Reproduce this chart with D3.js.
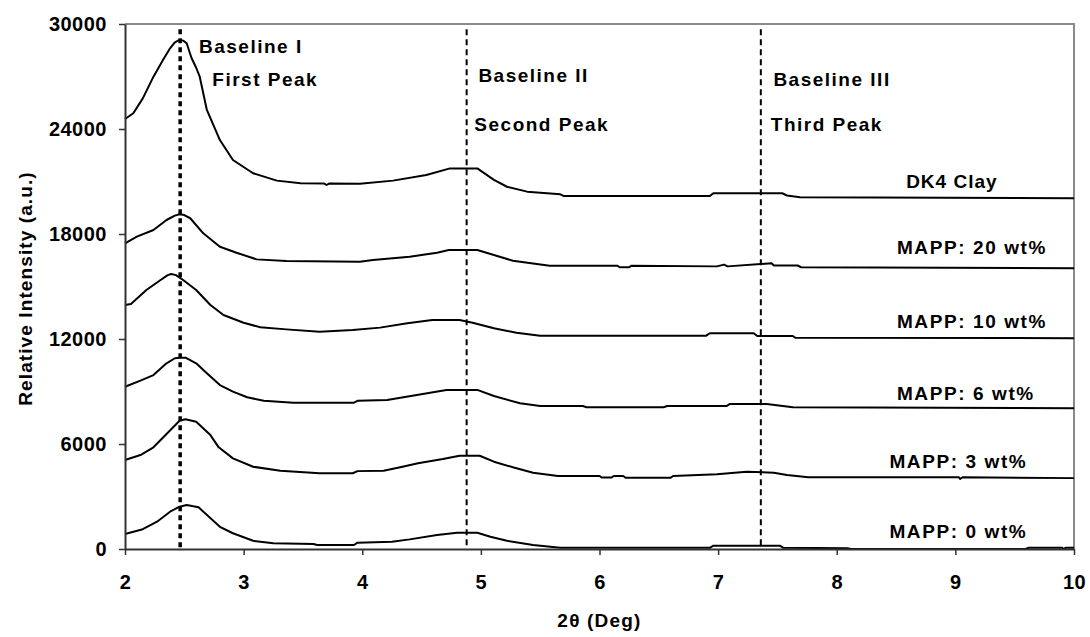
<!DOCTYPE html>
<html><head><meta charset="utf-8">
<script src="https://cdn.jsdelivr.net/npm/d3@7"></script>
<style>
body{margin:0;background:#fff}
text{font-family:"Liberation Sans",Arial,sans-serif;font-weight:bold;fill:#000}
</style>
</head><body><svg id="chart" width="1090" height="637"></svg>
<script>
// ---- data ----
const xTicks = [2, 3, 4, 5, 6, 7, 8, 9, 10];
const yTicks = [0, 6000, 12000, 18000, 24000, 30000];
const seriesLabels = ["DK4 Clay", "MAPP: 20 wt%", "MAPP: 10 wt%", "MAPP: 6 wt%", "MAPP: 3 wt%", "MAPP: 0 wt%"];
const baselineLabels = ["Baseline I", "Baseline II", "Baseline III"];
const peakLabels = ["First Peak", "Second Peak", "Third Peak"];
const baselinePositions = [2.465, 4.88, 7.36];
const xTitle = "2θ (Deg)";
const yTitle = "Relative Intensity (a.u.)";

const dk4Clay = [[2.00,24570],[2.07,24900],[2.15,25750],[2.24,26990],[2.32,27940],[2.38,28610],[2.42,28950],[2.46,29090],[2.49,29050],[2.52,28900],[2.56,28070],[2.60,27500],[2.63,26990],[2.69,25090],[2.80,23370],[2.91,22230],[3.08,21470],[3.28,21050],[3.48,20900],[3.68,20880],[3.70,20800],[3.72,20880],[3.98,20870],[4.26,21050],[4.54,21370],[4.74,21750],[4.97,21750],[5.11,21090],[5.22,20700],[5.39,20420],[5.67,20270],[5.70,20170],[6.93,20170],[6.96,20330],[7.54,20330],[7.58,20200],[7.69,20100],[10.00,20050]];
const mapp20 = [[2.00,17470],[2.10,17850],[2.24,18230],[2.35,18800],[2.42,19050],[2.46,19130],[2.50,19080],[2.55,18900],[2.66,18040],[2.80,17270],[2.94,16930],[3.11,16550],[3.36,16460],[3.98,16420],[4.09,16510],[4.40,16700],[4.63,16930],[4.73,17090],[4.97,17090],[5.11,16800],[5.27,16470],[5.58,16190],[6.15,16190],[6.17,16100],[6.25,16100],[6.27,16190],[6.99,16150],[7.05,16250],[7.08,16150],[7.45,16330],[7.47,16200],[7.67,16200],[7.70,16100],[10.00,16050]];
const mapp10 = [[2.00,13940],[2.05,14000],[2.18,14800],[2.30,15370],[2.36,15650],[2.39,15710],[2.43,15650],[2.49,15370],[2.60,14800],[2.72,13940],[2.83,13370],[3.00,12930],[3.14,12670],[3.36,12550],[3.64,12420],[3.92,12510],[4.15,12650],[4.38,12900],[4.59,13090],[4.82,13090],[4.93,12930],[5.11,12610],[5.30,12360],[5.50,12190],[6.90,12190],[6.93,12330],[7.30,12330],[7.33,12170],[7.63,12170],[7.65,12070],[10.00,12050]];
const mapp6 = [[2.00,9270],[2.13,9620],[2.24,9940],[2.35,10610],[2.42,10900],[2.46,10930],[2.51,10930],[2.60,10610],[2.69,10040],[2.80,9370],[2.91,8990],[3.03,8670],[3.17,8470],[3.42,8360],[3.93,8360],[3.96,8470],[4.21,8510],[4.46,8800],[4.71,9090],[4.97,9090],[5.11,8740],[5.33,8330],[5.50,8170],[5.86,8170],[5.89,8100],[6.54,8100],[6.57,8170],[7.07,8170],[7.10,8290],[7.41,8290],[7.63,8100],[10.00,8050]];
const mapp3 = [[2.00,5090],[2.13,5370],[2.24,5810],[2.35,6570],[2.46,7330],[2.51,7410],[2.60,7270],[2.72,6510],[2.79,5810],[2.91,5180],[3.08,4700],[3.31,4470],[3.64,4330],[3.92,4330],[3.96,4450],[4.18,4470],[4.32,4670],[4.47,4900],[4.68,5140],[4.82,5330],[4.99,5330],[5.11,4990],[5.27,4670],[5.44,4360],[5.65,4170],[6.00,4170],[6.02,4080],[6.10,4080],[6.12,4170],[6.20,4170],[6.22,4070],[6.60,4070],[6.62,4170],[6.99,4270],[7.24,4420],[7.47,4360],[7.58,4230],[7.76,4100],[9.03,4100],[9.04,4000],[9.06,4100],[10.00,4050]];
const mapp0 = [[2.00,860],[2.15,1130],[2.27,1560],[2.38,2130],[2.46,2420],[2.52,2510],[2.62,2380],[2.80,1270],[2.91,900],[3.08,470],[3.25,330],[3.59,290],[3.62,230],[3.93,230],[3.96,360],[4.25,420],[4.40,550],[4.63,800],[4.80,930],[4.97,930],[5.08,700],[5.22,470],[5.44,230],[5.67,70],[6.93,70],[6.96,190],[7.52,190],[7.55,70],[8.09,40],[8.12,0],[9.59,0],[9.62,70],[9.90,70],[9.91,0],[9.93,70],[10.00,70]];
const seriesData = [dk4Clay, mapp20, mapp10, mapp6, mapp3, mapp0];

// ---- layout ----
const W = 1090, H = 637;
const plot = {left: 125, right: 1074, top: 24, bottom: 549};
const svg = d3.select("#chart");
svg.append("rect").attr("width", W).attr("height", H).attr("fill", "#fff");

const x = d3.scaleLinear().domain([2, 10]).range([plot.left, plot.right]);
const y = d3.scaleLinear().domain([0, 30000]).range([plot.bottom, plot.top]);

// plot-area border (top / right)
svg.append("path")
  .attr("d", `M${plot.left},${plot.top}H${plot.right}V${plot.bottom}`)
  .attr("fill", "none").attr("stroke", "#8a8a8a").attr("stroke-width", 2);

// baselines (dashed vertical)
svg.append("g").selectAll("line").data(baselinePositions).join("line")
  .attr("x1", d => x(d)).attr("x2", d => x(d))
  .attr("y1", y(29700)).attr("y2", y(0))
  .attr("stroke", "#000")
  .attr("stroke-width", (d, i) => i === 0 ? 3.5 : 2)
  .attr("stroke-dasharray", (d, i) => i === 0 ? "5 4" : "6 4");

// curves
const line = d3.line().x(d => x(d[0])).y(d => y(d[1]));
svg.append("g").selectAll("path").data(seriesData).join("path")
  .attr("d", line).attr("fill", "none").attr("stroke", "#000")
  .attr("stroke-width", 2).attr("stroke-linejoin", "round");

// axes
const yAxis = d3.axisLeft(y).tickValues(yTicks).tickSize(6).tickSizeOuter(0).tickPadding(12).tickFormat(d3.format("d"));
const xAxis = d3.axisBottom(x).tickValues(xTicks).tickSize(6).tickSizeOuter(0).tickPadding(20).tickFormat(d3.format("d"));
const gy = svg.append("g").attr("transform", `translate(${plot.left},0)`).call(yAxis);
const gx = svg.append("g").attr("transform", `translate(0,${plot.bottom})`).call(xAxis);
[gx, gy].forEach(g => {
  g.select(".domain").attr("stroke", "#333").attr("stroke-width", 2);
  g.selectAll(".tick line").attr("stroke", "#333").attr("stroke-width", 1.5);
  g.selectAll(".tick text").attr("font-size", 20).attr("font-weight", "bold")
    .attr("font-family", '"Liberation Sans",Arial,sans-serif').attr("fill", "#000")
    .style("letter-spacing", "0.5px");
});

// axis titles
svg.append("text").attr("x", (plot.left + plot.right) / 2).attr("y", 627)
  .attr("text-anchor", "middle").attr("font-size", 19).style("letter-spacing", "1.2px").text(xTitle);
svg.append("text").attr("transform", `translate(32,${(plot.top + plot.bottom) / 2 + 2}) rotate(-90)`)
  .attr("text-anchor", "middle").attr("font-size", 19).style("letter-spacing", "1.1px").text(yTitle);

// annotations (positions in data units)
const baselineAt = [[2.624, 28330], [4.979, 26703], [7.466, 26456]];
const peakAt = [[2.736, 26456], [4.945, 23903], [7.444, 23885]];
const seriesAt = [[8.585, 20645], [8.507, 16840], [8.507, 12611], [8.507, 8514], [8.444, 4611], [8.444, 611]];
const ann = svg.append("g").attr("font-size", 19);
baselineLabels.forEach((t, i) => ann.append("text").attr("x", x(baselineAt[i][0])).attr("y", y(baselineAt[i][1])).style("letter-spacing", "1.5px").text(t));
peakLabels.forEach((t, i) => ann.append("text").attr("x", x(peakAt[i][0])).attr("y", y(peakAt[i][1])).style("letter-spacing", "1.5px").text(t));
seriesLabels.forEach((t, i) => ann.append("text").attr("x", x(seriesAt[i][0])).attr("y", y(seriesAt[i][1])).style("letter-spacing", i === 0 ? "1px" : "1.6px").text(t));
</script>
</body></html>
